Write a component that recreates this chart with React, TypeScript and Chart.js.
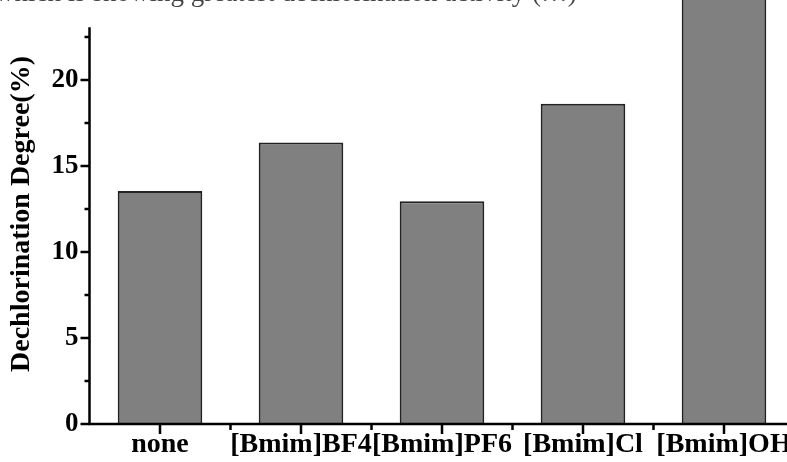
import React, { useEffect, useRef } from "react";
import { Chart, registerables } from "chart.js";

Chart.register(...registerables);

const categories = ["none", "[Bmim]BF4", "[Bmim]PF6", "[Bmim]Cl", "[Bmim]OH"];
const degreeValues = [13.54, 16.36, 12.95, 18.62, 25.0];
const yTickValues = [0, 5, 10, 15, 20];
const yMinorStep = 2.5;
const yMax = 23.07;
const yTitle = "Dechlorination Degree(%)";
const captionText = "which is showing greatest dechlorination activity (…)";

const FONT = "'Liberation Serif', 'Times New Roman', serif";

const axisPlugin = {
  id: "axisPlugin",
  afterDraw(chart: any) {
    const { ctx, chartArea, scales } = chart;
    const { left, right, top, bottom } = chartArea;
    const x = scales.x;
    const y = scales.y;
    ctx.save();
    ctx.strokeStyle = "#000";
    ctx.lineWidth = 2.5;
    ctx.lineCap = "butt";
    ctx.beginPath();
    ctx.moveTo(left, top);
    ctx.lineTo(left, bottom + 1.25);
    ctx.moveTo(left, bottom);
    ctx.lineTo(right, bottom);
    ctx.stroke();
    ctx.beginPath();
    for (let v = 0; v <= yMax + 1e-6; v += yMinorStep) {
      const py = y.getPixelForValue(v);
      const major = Math.abs(v / 5 - Math.round(v / 5)) < 1e-6;
      const len = major ? 9 : 5;
      ctx.moveTo(left - len, py);
      ctx.lineTo(left, py);
    }
    const n = categories.length;
    for (let i = 0; i < n; i++) {
      const px = x.getPixelForValue(i);
      ctx.moveTo(px, bottom);
      ctx.lineTo(px, bottom + 10);
      const nx = i < n - 1 ? x.getPixelForValue(i + 1) : px + (px - x.getPixelForValue(i - 1));
      const mx = (px + nx) / 2;
      ctx.moveTo(mx, bottom);
      ctx.lineTo(mx, bottom + 6);
    }
    ctx.stroke();
    // y-axis title
    ctx.fillStyle = "#000";
    ctx.font = "bold 28px " + FONT;
    ctx.textAlign = "center";
    ctx.textBaseline = "middle";
    ctx.translate(22, 214);
    ctx.rotate(-Math.PI / 2);
    ctx.fillText(yTitle, 0, 0);
    ctx.restore();
  },
};

export default function App() {
  const canvasRef = useRef<HTMLCanvasElement | null>(null);

  useEffect(() => {
    if (!canvasRef.current) return;
    const chart = new Chart(canvasRef.current, {
      type: "bar",
      data: {
        labels: categories,
        datasets: [
          {
            data: degreeValues,
            backgroundColor: "#808080",
            borderColor: "#222222",
            borderWidth: 2,
            barPercentage: 0.6,
            categoryPercentage: 1.0,
            clip: false as any,
          },
        ],
      },
      options: {
        animation: false,
        responsive: false,
        devicePixelRatio: 1,
        layout: { padding: { left: 0, right: 5.5, top: 18, bottom: 0 } },
        plugins: {
          legend: { display: false },
          tooltip: { enabled: false },
          title: { display: false },
        },
        scales: {
          x: {
            type: "category",
            offset: true,
            grid: { display: false, drawTicks: false },
            border: { display: false },
            ticks: {
              color: "#000",
              font: { family: FONT, size: 28, weight: "bold" },
              padding: 4,
              maxRotation: 0,
              autoSkip: false,
            },
            afterFit(scale: any) {
              scale.height = 38;
            },
          },
          y: {
            type: "linear",
            min: 0,
            max: yMax,
            grid: { display: false, drawTicks: false },
            border: { display: false },
            ticks: {
              color: "#000",
              font: { family: FONT, size: 27, weight: "bold" },
              padding: 11,
            },
            afterBuildTicks(scale: any) {
              scale.ticks = yTickValues.map((v) => ({ value: v }));
            },
            afterFit(scale: any) {
              scale.width = 89.5;
            },
          },
        },
      },
      plugins: [axisPlugin],
    });
    return () => chart.destroy();
  }, []);

  return (
    <div
      style={{
        position: "absolute",
        left: 0,
        top: 0,
        width: 787,
        height: 462,
        overflow: "hidden",
        background: "#fff",
      }}
    >
      <canvas ref={canvasRef} width={800} height={462} style={{ position: "absolute", left: 0, top: 0 }} />
      <div
        style={{
          position: "absolute",
          left: -5,
          top: -21,
          fontFamily: FONT,
          fontSize: 27,
          lineHeight: "27px",
          color: "#444",
          whiteSpace: "nowrap",
        }}
      >
        {captionText}
      </div>
    </div>
  );
}
